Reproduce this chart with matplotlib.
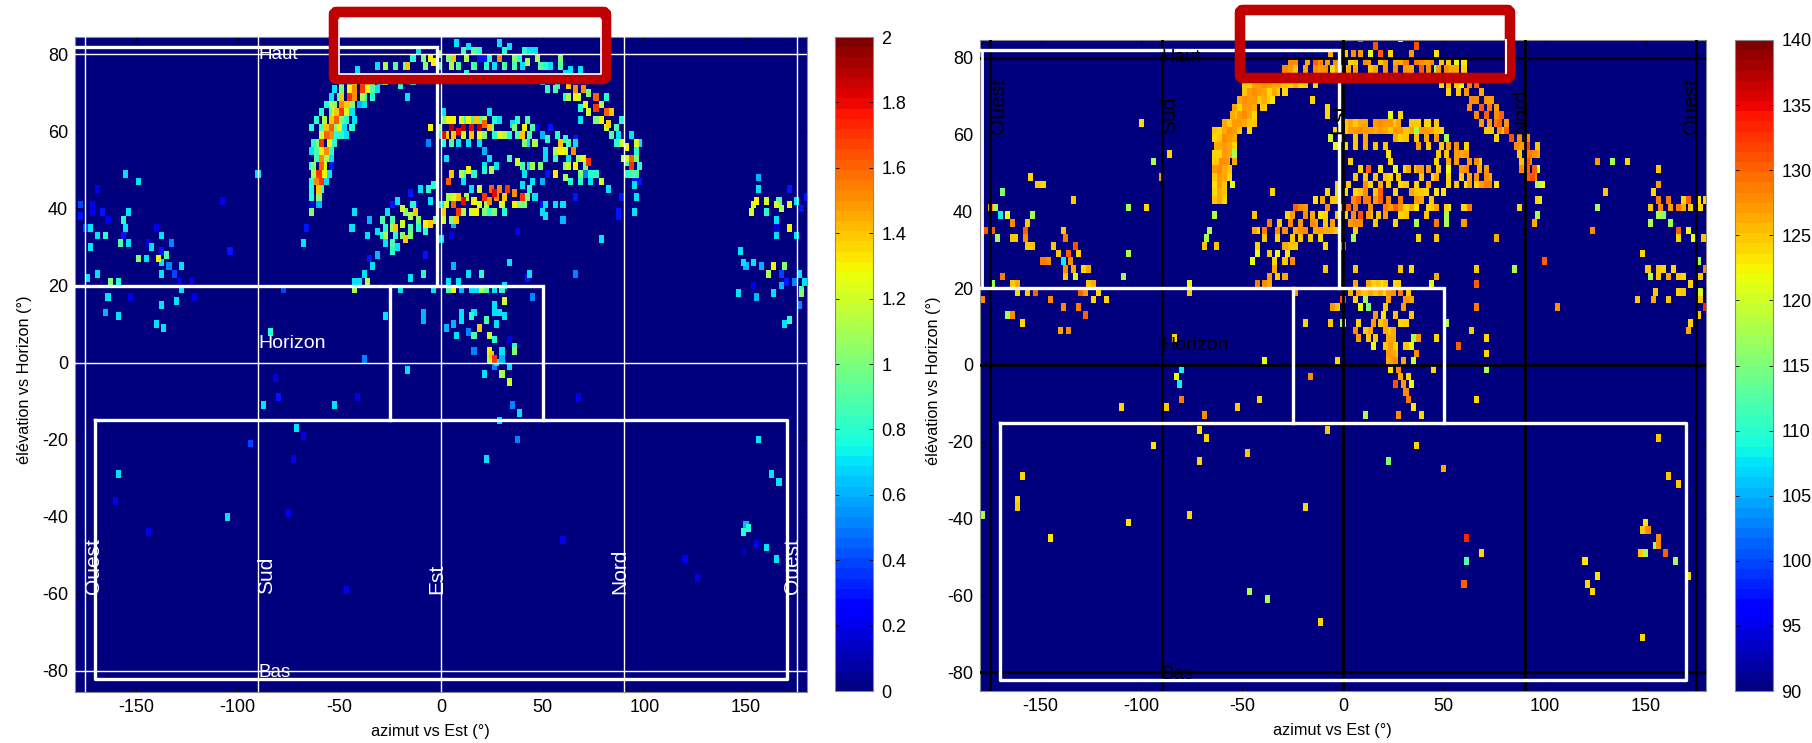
import numpy as np
import matplotlib
matplotlib.use('Agg')
import matplotlib.pyplot as plt
from matplotlib.patches import FancyBboxPatch

plt.rcParams['font.family'] = ['Liberation Sans', 'DejaVu Sans']
plt.rcParams['axes.unicode_minus'] = False

# ---- panneau gauche : (azimut, elevation, valeur) ----
l_arc_ouest = [(-64,42,.8),(-61,42,1.0),(-64,44,.8),(-61,44,1.4),(-59,44,.8),(-62,46,1.5),(-60,46,1.7),(-57,46,.7),
    (-63,48,1.1),(-60.5,48,1.7),(-58,48,1.3),(-63,50,1.0),(-60,50,1.6),(-58,50,1.2),(-55,50,.3),(-62,52,.9),(-59.5,52,1.5),
    (-57,52,1.1),(-62,54,.9),(-59.5,54,1.3),(-57,54,1.5),(-54,54,.8),(-61,56,1.0),(-59,56,1.7),(-56,56,1.3),(-53,56,.8),
    (-60,58,1.2),(-57.5,58,1.6),(-55,58,1.5),(-52,58,.8),(-60,60,.9),(-57,60,1.4),(-54.5,60,1.6),(-52,60,1.0),
    (-58,62,1.1),(-55,62,1.4),(-52,62,1.6),(-49,62,1.0),(-47,62,.8),(-55,64,.9),(-52,64,1.4),(-50,64,1.7),(-47,64,1.2),(-44,64,.7),
    (-53,66,1.0),(-50,66,1.5),(-47,66,1.4),(-44,66,1.0),(-41,66,.6),(-51,68,.9),(-49,68,1.4),(-46,68,1.7),(-43,68,1.5),(-40,68,1.1),(-38,68,.8),
    (-49,70,1.0),(-46,70,1.3),(-43,70,1.5),(-40,70,1.7),(-37,70,1.3),(-34,70,.9),(-46,72,.9),(-43,72,1.2),(-40,72,1.6),(-37,72,1.4),
    (-34,72,1.0),(-31,72,.7),(-28,72,1.1),(-21,71.5,.8),(-14,72,.8),(-16.6,68.3,.7),
    (-65,46,.8),(-65,50,.8),(-56,48,.7),(-55,52,.7),(-64,54,.7),(-63,57,.8),(-64,60,.8),(-62,62,.8),(-60,64,.8),(-57,66,.8),(-55,68,.7),
    (-53,70,.7),(-50,72,.8),(-53,64,1.2),(-55,66,1.1),(-51,60,1.3),(-48,60,.7),(-43,62,.7),(-45,60,.8),(-38,66,.7),(-35,68,.8),(-32,70,.7),(-47,58,.7),(-50,58,.8)]
l_arc_haut = [(-42.4,75.6,.7),(-31.7,76,.7),(-28.4,76,1.1),(-23.5,77,.9),(-17.7,77,1.0),(-17,76,1.4),(-12,80,.7),(-10,78.7,1.0),
    (-6,79,1.3),(-4.6,77.4,1.3),(-1.3,79.5,1.0),(-1.3,76,.9),(2.8,78.7,1.0),(5.3,78,1.4),(4.5,76.5,1.1),(7,83,.7),(10,80,.9),
    (13.5,81.7,.7),(11.8,78,1.1),(15,80,.9),(16,77,.9),(17.6,78,.3),(23.3,79,.8),(21.7,76.5,.8),(28.2,83,.7),(28.2,78,1.5),(25,76,.7),
    (33,81.7,.7),(35.6,79,1.0),(35.6,76.5,.9),(39,76,.7),(42,77.4,1.1),(43,80,.7),(45.5,80,.7),(47,78,1.1),(50.4,77,.8),
    (57.8,78,1.0),(57.8,76.5,.9),(63.5,75.6,.7),(67.6,75.6,.7),(21,78,.3),
    (-8,76,1.0),(-15,78,.8),(30,80,.8),(31,77,.9),(8,76,.9),(12,75,.8),(18,80,.8),(38,79,.8),(40,81,.8),(48,76,.9),(53,76,.7),(60,75,.7)]
l_arc_est = [(48.8,72,.7),(52,71,.8),(57,71.7,.8),(62,71.7,1.4),(65,71,1.5),(69,71,1.5),(65,68.7,1.3),(72,69.5,1.0),(75,68,1.6),(76,65.7,1.7),
    (68.5,65.7,.8),(80,68,.8),(80,64,1.6),(83,64,1.4),(75,62.6,1.0),(82.4,61.8,1.4),(88,62,.8),(83,58.7,.9),(87,59,.7),(88,56,1.2),
    (93,58.7,.7),(90.6,55.7,1.3),(95,56.5,1.2),(97.2,56,.7),(93,53,1.6),(91.5,52,1.2),(97.2,50.5,.8),(93,50,1.7),(93,49,.9),(90,51.3,.9),(92.7,58.8,.7),
    (55,70,.9),(60,69,.8),(62,68,1.1),(67,68,1.2),(70,66,1.3),(72,64,1.2),(78,66,1.1),(78,62,1.3),(80,60,1.2),(85,60,.9),(85,56,.8),(89,53,1.2),(95,52,1.0),
    (95,48,.9),(90,48,.8),(96,54,.8),(68,63,.7)]
l_arc_60 = [(-6.2,60.5,1.3),(-7,57,.5),(-2,60.5,1.0),(1.2,59,1.8),(4.5,60.5,1.9),(7.7,59.6,1.8),(11,60.5,1.9),(14.3,60,1.8),(17.6,60.5,1.9),
    (20,61.3,1.6),(22.5,60.5,1.4),(22.5,64,.7),(1.2,64.8,.7),(4.5,57,.9),(10,62.6,.8),(15,63,.8),(19,62.6,.9),(28,63,.7),(25.8,62,.8),
    (28,58.7,1.3),(30,58.3,1.1),(34,61.3,.7),(37,62,.8),(40.6,61,1.3),(39.8,59,1.4),(44,60.5,.9),(43,58.3,.9),(47,60.5,.2),(45.5,57,1.1),
    (48.8,58.7,.6),(52,57.4,.8),(53,60,.3),(57.8,56,1.4),(57,58,.8),(61,57.4,.8),(58.6,54.4,1.3),(66,57.4,.3),(64.4,54,1.5),(62,52.6,.7),
    (66,56,.7),(69,52,1.3),(71.4,51.3,1.7),(66.8,52,1.1),(72.6,49,.8),(76,49,.8),(77.5,46.6,1.2),(72.6,46.6,.7),(67.6,46,.8),(63.5,46,.8),
    (60,47.4,1.1),(71,48,.5),(81.6,44.4,.7),
    (0,62,1.0),(3,62,1.3),(6,62,1.3),(9,62,1.2),(13,62,1.3),(17,62,1.4),(20,63,1.1),(2,58,1.4),(6,58,1.4),(10,58,1.2),(14,58,1.4),(18,58,1.3),(21,58,1.0),
    (-2,58,.7),(0,56,.8),(8,56,.7),(13,56,.7),(18,56,.7),(24,60,1.0),(26,58,.8),(33,59,.8),(36,60,1.0),(37,58,.9),(42,62,.9),(40,57,1.0),(42,56,.7),(50,55,.7),
    (55,54,1.1),(55,52,.8),(60,50,1.0),(62,50,1.2),(65,50,1.3),(68,49,1.0),(70,50,1.0),(60,55,1.2),(62,56,.9)]
l_arc_50 = [(2,52,.7),(21,55,.6),(22.5,53,.7),(10,49,.9),(9.4,48.3,1.1),(13.5,49.6,1.3),(4.5,48.7,1.4),(3.6,46.6,1.6),(16,48.7,.8),(21,49.2,.8),
    (24,49.6,1.1),(26.6,50.5,.7),(21,50.5,.7),(33,52,.9),(36.5,51.3,1.2),(40.6,49,.7),(43,51,.7),(44.7,50.5,1.1),(48,50.5,1.0),(51,52,.7),
    (55,49,1.3),(52,49,.3),(39.7,50,.9),(44.7,46,.7),(48.8,46,.6),(10,47,.7)]
l_arc_40 = [(-10.3,44,.7),(-7,44.4,.8),(-3.8,45.3,.8),(-5.4,41.4,.7),(-.5,40.5,.7),(2,41,1.2),(1,38.7,1.4),(5,42.6,1.2),(6,40.5,1.6),(10,41.4,1.8),
    (8.5,39,1.7),(14.3,44.4,.7),(15,41.8,1.3),(20,42.6,1.7),(17.6,40.5,1.2),(25.8,43.5,1.8),(27.4,42,1.5),(29,41,1.2),(22.5,41.8,1.5),(32.4,44,1.7),
    (35.6,43.5,1.5),(39.7,42.6,1.7),(38,41,1.0),(30,39,.8),(42,42.3,1.0),(45.5,43,.7),(21.7,40,1.1),(38.9,45.3,.7),(50.4,40,.7),(55,40,.7),(49.6,38,.7),
    (59.5,40,.7),(65.2,43,.3),
    (4,36,1.0),(7,37,1.4),(11,38,1.1),(14,38,1.2),(17,38,1.3),(20,39,1.0),(23,38,.8),(26,39,1.0),(28,44,1.5),(31,42,1.4),(35,41,1.3),(24,44,1.6),(18,44,1.2),
    (12,43,1.1),(8,43,1.4),(3,43,1.1),(40,40,1.0),(43,44,.8),(0,36,1.2),(-3,36,1.0)]
l_diag = [(-21.8,41.7,.7),(-19.4,39.6,1.2),(-16,37.4,1.1),(-12.8,38.3,1.4),(-12,36.5,1.0),(-22.6,34.8,1.4),(-20,35.2,1.2),(-25,34.4,1.1),(-30,36,.9),
    (-32.5,33.5,.7),(-27.6,32.6,1.1),(-28.7,30.5,.7),(-25,31,.9),(-21.5,29.3,.7),(-18.2,31.3,1.4),(-22.6,32.2,.8),(-15.3,34.8,.9),(-12,34,.8),
    (-8.7,33.5,.8),(-7.9,35.8,1.3),(-6.2,35.8,1.4),(-16,43.5,.3),(-25,40,.3),(-12.8,40.9,.3),(-43.5,38.9,.7),(-36,36.8,.6),(-44,34.8,.7),(-37,32.2,.7),
    (-27,38.3,.7),(-31.7,27.2,.6),(-35,24.4,.7),(-35.3,26,.3),(-38,22.2,.7),(-36.6,21,1.1),(-43,20.5,.7),(-43.2,18.3,1.1),(-40.7,21,.7),(-16,21.8,.7),
    (-9.5,22.8,.8),(-8.7,27.4,.2),(-20.5,18.3,.7),(-5,18.8,.7),(-28,11.4,.7),(-9,12.7,.6),(-9.5,10.3,.6),(-38.6,.3,.5),(-17,-2.8,.7),
    (-25,36,.9),(-18,38,1.0),(-16,33,1.0),(-20,32,1.0),(-28,35,.8),(-30,33,.8),(-24,29,.8),(-14,40,.8)]
l_bas_centre = [(2.8,18,.9),(6,18,1.3),(3.6,20.5,.7),(9.4,18.8,.6),(8.5,21,.7),(13,22,.7),(14.3,18,.7),(19.2,22.2,.8),(16.7,18,.7),(19.2,18,1.1),(21.7,18.8,.9),
    (25,18.8,.7),(29,18.3,.8),(30.7,15.7,1.2),(25,15,.7),(25.8,12.7,.7),(28.6,13,.7),(30,11.8,.7),(16,13,.7),(9.4,12.7,.7),(9.4,10,.7),(14,11.3,.8),(21.7,10,.9),
    (26.6,9.6,.7),(2,8.3,.6),(5.3,9.2,.6),(12.6,7.7,.5),(17.6,8.3,1.4),(16,6.2,.9),(6.5,6.2,.7),(23.3,6.2,1.2),(25.3,5.3,.8),(22.5,3,1.3),(29.5,3,.7),(36,3.5,.8),
    (35.6,2.2,1.0),(15,2.2,.5),(24,1.8,1.4),(25.8,1,1.7),(22.5,1,1.1),(29.4,0,.6),(33.5,5.5,.2),(33.5,-1.2,.7),(25,-1.2,.5),(27.4,-.8,.7),(21,-3,.7),(29,-3,1.1),
    (33,-5,1.2),(31,19.7,.7)]
l_ouest = [(-156,48,.7),(-150,46,.7),(-170,44,.2),(-108,41.4,.2),(-91,48.8,.7),(-172,41,.2),(-178,40,.4),(-178,37.5,.3),(-171.6,38.4,.2),(-167,39,.3),(-165,37,.2),
    (-155,38,.7),(-157,36.6,.8),(-156,35,.7),(-176,34,.4),(-173,34,.7),(-169,32,.7),(-165.4,33,.8),(-158,30.7,.9),(-155,30.4,.7),(-156.6,32,.3),(-140.5,34,.2),
    (-138,32,.7),(-132.7,30.4,.5),(-144,30.4,.2),(-143,29.4,.7),(-137.7,29,.3),(-150,27,1.0),(-146,27,.7),(-139,27,1.3),(-136,27.5,.9),(-138,25.3,.7),(-104,28.4,.3),
    (-173,29.4,.7),(-134.7,25,.5),(-131.6,23,.4),(-127.6,24.4,.7),(-138,22,.7),(-169,22,.7),(-175,21.4,.7),(-163,20.6,1.0),(-160,20,.8),(-129,21,.2),(-123,21,.2),
    (-165,17,.7),(-128,18.4,.7),(-153.5,16.8,.2),(-122,17,.2),(-131,15.8,.7),(-138,15,.7),(-166,12.8,.6),(-159,11.3,.7),(-141,9.3,.7),(-136.4,8.9,.7),(-84,7.3,.8),
    (-78,19,.4),(-64,38,1.0),(-64,40,.2),(-67,34.5,.3),(-68.6,30.4,.7),(-43.7,38.8,.7),(-44,35,.7),(-60.5,40,.6),(-55.5,48.8,.3)]
l_epars = [(-.2,31.8,.7),(4,32,.2),(6,35.2,.6),(36.5,33.3,.2),(5.6,24.2,.6),(32.7,25.3,.7),(65,22.7,.5),(43,22.8,.7),(41.9,21.3,.3),(44.7,17,.5),(59,40,.6),(59,36,.6),
    (77.7,31.8,.7),(48.8,40.2,.3),(50,37.8,.7),(86.5,37.8,.3),(94.7,45.3,.7),(96,42.3,.7),(94.5,39,.7),(86.4,38,.3),(88.4,42.3,.3),(97.2,47,.3),(94,47.5,.3),
    (-8.5,27.3,.3),(-82.4,-4.2,.2)]
l_est = [(155,47.5,.6),(155,44,.7),(170,44.9,.3),(151.8,38.4,1.2),(152.5,40,1.2),(154.3,41.4,1.3),(159.3,41.8,1.2),(159.3,38.8,.8),(163.8,40.5,1.2),(165.6,41.8,.9),
    (167.3,39.7,1.1),(171,40.5,1.3),(173.9,41.8,.7),(176.9,39.7,.3),(179.4,42.3,.3),(164.3,37,.7),(164.3,34.5,.2),(170,34.3,1.3),(164.6,32.9,.7),(173.9,32.3,.7),
    (146.7,28.8,.7),(148,25.8,.7),(149.7,24.3,.6),(153,25.3,.7),(156.8,24.5,.6),(160.6,23,1.1),(163.6,24.3,1.3),(167.6,24,1.0),(161,22.6,.5),(175.6,22.3,.7),
    (173,20.7,.5),(167.3,22.3,.4),(178.6,20.6,.7),(176.9,18.8,.9),(176.9,17.5,1.0),(169.8,20,.3),(166.8,19.7,.6),(145,17.4,.7),(154.3,17,.6),(163,17.4,.7),
    (153,19.5,.2),(176,14.5,.5),(170.6,10.6,.8),(168.6,9.5,.7)]
l_sud = [(-87.7,-11.8,.7),(-80.7,-10,.3),(-53,-11.8,.7),(-42.2,-9.3,.2),(34,-11,.5),(38,-13.2,.7),(28,-15,.7),(66.6,-9.3,.2),(-71.9,-18,.7),(-67.6,-20,.2),
    (-94.5,-21.5,.4),(-72.6,-26,.2),(-160,-29.6,.7),(-161,-36.7,.2),(-106,-40.8,.7),(-76,-39.7,.2),(-145,-44.8,.2),(-46.5,-59,.2),(59,-46.3,.2),(119,-51.4,.2),
    (125,-56.4,.2),(22,-26,.7),(36.4,-20.5,.5),(155,-20.5,.7),(161.3,-29.6,.7),(165,-31.7,.7),(149,-42.5,.6),(148,-44.3,.8),(150.8,-43.9,.8),(154.5,-48,.2),
    (159.5,-48.3,.7),(163.8,-51.4,.7),(148,-49.5,.1)]

# ---- panneau droit ----
r_arc_ouest = [(-64,42,125),(-61.5,42,126),(-59,42,124),(-64,44,124),(-61.5,44,126),(-59,44,125),(-64,46,123),(-61.5,46,127),(-59,46,125),(-56,46,121),
    (-64,48,125),(-61.5,48,127),(-59,48,126),(-56.5,48,124),(-64,50,127),(-61.5,50,128),(-59,50,126),(-56.5,50,125),(-63,52,125),(-60.5,52,128),(-58,52,127),
    (-62,54,124),(-59.5,54,127),(-57,54,126),(-54,54,118),(-62,56,126),(-59.5,56,127),(-57,56,126),(-54.5,56,124),(-62,58,125),(-59.5,58,128),(-57,58,127),(-54.5,58,126),
    (-62,60,124),(-59.5,60,126),(-57,60,128),(-54.5,60,127),(-52,60,125),(-57,62,125),(-54.5,62,127),(-52,62,127),(-49.5,62,126),(-54.5,64,125),(-52,64,127),
    (-49.5,64,128),(-47,64,126),(-44,64,124),(-52,66,124),(-49.5,66,127),(-47,66,127),(-44.5,66,126),(-54,67,117),(-52,68,126),(-49.5,68,128),(-47,68,127),
    (-44.5,68,127),(-42,68,125),(-50,70,125),(-47.5,70,127),(-45,70,128),(-42.5,70,127),(-40,70,126),(-37,70,124),(-47.5,72,124),(-45,72,127),(-42.5,72,127),
    (-40,72,128),(-37.5,72,127),(-35,72,126),(-32.5,72,126),(-30,72,125),(-27.5,72,125),(-22,72,124),(-15,72,124),(-16,68,124),(-8,66,124),
    (-64,60,125),(-64,58,124),(-63,56,126),(-65,54,124),(-65,52,124),(-55,52,126),(-59,62,126),(-47,62,125),(-56,64,126),(-54,66,126),(-41,66,125),(-39,66,124),
    (-38,68,125),(-40,68,126),(-36,68,123),(-35,70,126),(-33,70,125),(-30,70,124),(-50,72,125),(-25,72,126),(-20,72,125),(-47,60,124),(-44,62,125)]
r_arc_haut = [(-30,76,128),(-27,76,127),(-24,76,125),(-24,78,128),(-19,76,124),(-18,78,126),(-15,78,130),(-12,79,128),(-10,76,128),(-7,80,126),(-6,77,124),(-3,78,128),
    (-2,76,126),(0,80,125),(3,78,124),(6,76,126),(8,84,130),(8,81,127),(10,78,128),(13,80,122),(13,76,125),(15,82,131),(18,78,125),(18,80,130),(20,76,124),(23,80,124),
    (25,77,128),(28,78,126),(28,84,122),(30,76,127),(33,80,127),(35,78,129),(35,82,131),(38,76,130),(40,79,127),(43,78,128),(45,76,118),(46,81,123),(48,79,125),
    (50,77,128),(53,76,126),(55,79,122),(59,79,123),(59,76,124),(21,76,127),
    (-20,76,126),(-15,76,128),(-12,76,127),(-8,78,127),(-5,79,128),(-3,76,127),(2,77,126),(4,80,128),(6,79,125),(12,78,127),(16,77,126),(21,79,127),(26,79,126),
    (31,78,129),(33,76,126),(38,78,128),(42,76,128),(47,77,127),(52,78,125),(56,77,126),(-35,75,128),(-32,75,127),(-27,78,128)]
r_arc_est = [(48,72,124),(52,70,124),(55,72,125),(58,72,122),(60,70,127),(62,72,129),(65,72,130),(63,69,128),(65,68,128),(68,70,126),(68,66,130),(70,68,127),
    (72,66,129),(75,66,127),(72,63,127),(75,63,129),(77,63,130),(80,63,127),(73,61,125),(77,61,128),(80,61,130),(75,59,124),(83,58,131),(87,58,128),(90,56,132),(87,55,125),
    (92,54,129),(90,53,131),(88,53,125),(92,52,128),(94,50,130),(91,51,130),(94,54,128),(93,48,131),(96,50,120),(95,46,118),(98,47,122),(95,43,121),(97,42,120),(95,39,115),
    (52,72,126),(57,70,125),(62,66,128),(66,64,128),(68,62,127),(70,60,125),(78,60,125),(75,64,128),(78,65,130),(70,64,130),(73,68,127),(85,56,128),(88,56,127),(90,58,128),
    (88,50,128),(92,48,130),(94,48,128),(90,50,129),(96,54,126),(96,56,125)]
r_arc_60 = [(-7,58,120),(-5,60,124),(-5,56,122),(-2,58,126),(0,60,125),(2.5,60,127),(2.5,62,126),(5,60,127),(5,58,125),(7.5,60,128),(7.5,62,126),(10,60,127),(10,58,126),
    (12.5,60,127),(15,60,126),(15,62,127),(17.5,60,127),(17.5,62,128),(20,60,126),(22.5,62,127),(22.5,60,125),(22.5,64,122),(25,60,127),(27.5,60,127),(27.5,58,124),
    (30,60,125),(32.5,62,125),(32.5,60,126),(35,60,118),(37.5,60,127),(40,62,124),(40,60,127),(40,58,126),(42.5,60,126),(45,58,127),(47.5,60,124),(47.5,56,124),
    (50,58,118),(52,56,127),(55,56,128),(55,54,127),(57.5,54,126),(60,54,127),(62,52,127),(60,56,124),(65,52,128),(67,50,126),(70,50,127),(70,48,128),(72,48,126),
    (72,46,129),(67,52,124),(75,46,123),(22,54,123),(23,52,124),(62,47,127),(65,46,124),(60,46,123),
    (0,62,125),(5,63,125),(10,63,126),(15,63,125),(20,63,127),(25,63,125),(28,65,124),(27,62,126),(35,62,125),(37,63,124),(42,63,124),(45,62,125),(0,57,124),(5,56,125),
    (10,56,126),(15,57,125),(20,57,125),(25,58,126),(30,58,125),(35,58,125),(37,56,127),(42,56,125),(47,54,125),(50,54,125),(52,53,126),(55,52,127),(58,50,127),(60,50,128),
    (62,49,126),(65,48,128),(68,46,127),(70,46,129),(48,57,125),(45,61,125)]
r_arc_50 = [(3,52,124),(2,47,125),(0,44,124),(5,48,125),(5,45,124),(10,48,125),(10,46,128),(12,50,130),(13,47,124),(15,49,125),(18,50,123),(20,48,125),(23,49,124),(25,51,122),
    (30,51,124),(32,50,126),(35,51,125),(38,48,125),(38,51,127),(42,50,127),(44,48,124),(45,52,124),(47,50,125),(52,48,124),(52,51,122),(58,49,124),(60,47,123),
    (8,44,125),(15,45,124),(22,46,125),(8,50,124),(18,47,126),(27,49,125),(30,47,125),(35,47,124),(37,50,127),(42,47,126),(45,49,126),(28,47,124),(52,46,124),(56,46,125)]
r_arc_40 = [(-10,38,124),(-8,44,124),(-5,42,125),(-3,46,124),(-3,38,125),(0,38,124),(-2,41,127),(2,41,130),(4,39,128),(4,43,128),(6,41,129),(8,39,131),(8,37,128),(10,42,129),(13,38,125),
    (13,41,128),(15,42,127),(17,39,125),(18,44,130),(20,41,129),(22,43,128),(23,40,127),(25,44,124),(25,41,130),(28,42,129),(28,38,124),(31,41,124),(33,44,126),
    (35,40,123),(35,42,127),(38,42,126),(40,44,124),(42,41,124),(44,41,125),(46,40,124),(45,44,123),(50,40,124),(50,38,118),(52,40,122),(49,44,123),(61,41,123),
    (3,37,127),(6,37,128),(12,39,127),(16,37,125),(20,38,127),(25,37,124),(30,39,125),(33,40,126),(38,44,125),(40,39,125),(10,44,128),(15,44,125),(22,46,125),(30,46,124),
    (35,44,125),(43,43,125),(18,42,130),(12,42,129),(7,42,130),(28,40,128)]
r_diag = [(-43,21,129),(-40,20,128),(-37,22,127),(-37,20,126),(-35,24,126),(-34,26,124),(-33,22,125),(-30,22,126),(-33,28,122),(-29,26,125),(-26,27,128),(-27,30,125),
    (-26,33,125),(-29,34,128),(-27,36,128),(-24,34,126),(-22,32,125),(-24,30,125),(-22,36,127),(-19,35,128),(-19,38,127),(-16,37,128),(-17,33,125),(-14,36,126),(-12,35,127),(-9,35,126),(-7,35,126),
    (-5,35,125),(-25,40,130),(-22,40,128),(-19,41,127),(-16,39,126),(-28,39,124),(-32,37,125),(-14,43,123),(-12,39,123),(-8,40,128),(-6,43,125),(-3,44,124),(-11,42,126),
    (-40,33,125),(-37,29,125),(-44,34,126),(-33,35,128),(-43,28,122),(-46,27,122),(-63,30,125),(-68,33,118),(-28,28,123),
    (-20,38,128),(-22,34,128),(-26,38,127),(-15,35,126),(-10,37,125),(-12,33,124),(-6,37,127),(-30,30,126),(-33,32,124)]
r_bas_centre = [(3,18,126),(5,20,126),(5,17,124),(7,18,127),(10,19,125),(10,16,118),(13,18,126),(13,21,124),(15,18,125),(15,20,124),(18,19,126),(18,21,123),(20,18,124),(22,16,126),
    (24,18,128),(25,21,124),(28,19,129),(30,17,127),(8,15,122),(12,14,115),(10,9,125),(13,9,126),(16,12,127),(19,13,123),(18,10,125),(21,14,125),(21,11,126),(22,8,125),
    (26,13,125),(29,14,127),(28,10,124),(24,9,126),(5,9,128),(7,6,127),(15,6,125),(14,4,122),(24,6,126),(22,3,127),(25,4,124),(24,1,127),(22,1,126),(26,1,128),(34,7,118),(33,4,122),
    (31,5,125),(36,2,128),(37,6,127),(34,1,120),(36,3,125),(29,0,126),(45,6,124),(44,-2,124),(27,-1,128),(23,-2,123),(28,-3,126),(32,-3,124),(33,-5,122),(26,-5,131),(29,-6,127),(30,-8,128),(32,-9,129),
    (-6,15,127),(-7,10,125),(-1,11,118),(-19,11,124),(-3,1,124),(-39,0,122),(-17,-3,128),
    (8,19,125),(12,20,126),(17,21,125),(20,20,125),(22,19,127),(27,20,124),(32,18,125),(33,16,126),(33,13,125),(31,11,124),(21,8,126),(23,5,127),(22,6,126),(24,3,126),(26,3,125),
    (7,11,124),(12,7,125),(14,11,127),(16,7,125),(20,5,125)]
r_ouest = [(-156,48,124),(-152,47,125),(-150,46,124),(-135,43,125),(-170,44,115),(-173,41,117),(-176,41,127),(-171,38,108),(-167,39,122),(-165,37,128),(-157,37,125),(-155,38,118),(-158,35,130),
    (-178,34,131),(-175,34,130),(-172,32,117),(-165,33,125),(-163,32,125),(-157,31,125),(-158,33,128),(-155,30,125),(-140,34,125),(-138,32,129),(-144,31,125),(-142,29,125),(-139,27,108),
    (-133,30,131),(-132,28,124),(-150,27,129),(-147,27,128),(-138,25,128),(-136,26,128),(-137,28,130),(-134,24,126),(-130,24,124),(-127,24,126),(-133,22,120),(-127,21,125),(-124,21,126),
    (-138,22,125),(-170,22,129),(-165,21,125),(-162,21,126),(-175,21,117),(-128,19,127),(-131,18,130),(-157,18,125),(-162,18,124),(-153,18,130),(-146,17,128),(-139,15,128),(-132,15,129),(-128,13,130),
    (-124,16,124),(-118,17,124),(-122,18,124),(-167,13,118),(-164,13,128),(-160,11,124),(-141,9,126),(-137,9,128),(-84,7,124),(-83,-4,122),(-82,-6,108),(-180,17,128),
    (-124,21,125),(-107,41,117),(-98,41,124),(-95,52,118),(-101,63,124),(-87,54,124),(-91,48,127),(-107,28,118),(-109,22,117),(-77,20,122),(-77,18,125),(-81,-1,108),(-65,39,118),(-69,30,125),(-67,34,118),(-58,52,117),
    (-44,38,125),(-43,35,124),(-36,45,124),(-37,36,129),(-39,34,129),(-43,31,124),(-16,68,124),(-8,64,124)]
r_epars = [(-1,31,131),(-9,31,124),(4,33,118),(6,35,124),(36,36,118),(46,36,129),(45,33,125),(37,33,124),(5,24,125),(33,25,124),(-10,24,125),(-3,15,125),(-24,18,127),(-1,17,131),(66,24,125),
    (66,21,130),(43,21,122),(46,22,126),(28,24,125),(46,40,126),(59,41,124),(59,36,127),(62,41,129),(50,37,118),(76,32,126),(84,25,118),(99,27,130),(87,41,124),(96,42,124),(94,36,126),(95,38,118),(105,15,128),
    (66,15,129),(50,10,118),(63,8,125),(71,7,124),(57,4,130),(70,3,124),(71,-1,118),(-8,-17,125)]
r_est = [(129,44,125),(133,53,118),(126,52,127),(125,40,118),(141,52,124),(155,51,125),(155,47,127),(153,45,124),(152,40,125),(152,37,118),(155,42,129),(157,40,128),(158,38,115),(160,42,129),(162,37,117),
    (162,40,127),(165,40,129),(168,42,124),(168,40,126),(170,42,130),(172,40,125),(175,42,123),(177,41,124),(179,42,124),(155,38,118),(165,34,130),(165,32,124),(171,34,122),(173,32,122),(178,33,125),
    (123,34,128),(148,29,124),(150,25,125),(152,23,118),(155,25,125),(155,22,125),(158,24,124),(160,22,126),(163,24,124),(165,23,125),(168,23,124),(172,21,124),(177,22,125),(168,18,125),(177,19,120),(177,17,125),
    (146,17,125),(153,17,126),(154,19,125),(161,17,125),(165,18,124),(179,15,133),(176,13,125),(172,10,124),(170,9,126),(176,26,118),(179,25,128)]
r_sud = [(-111,-11,124),(-88,-12,125),(-81,-10,129),(-69,-13,128),(-53,-11,125),(-42,-9,124),(10,-13,118),(27,-13,128),(34,-11,123),(38,-13,124),(66,-9,124),(-72,-18,123),(-68,-20,124),(-95,-21,123),
    (-48,-23,125),(36,-21,124),(35,-22,123),(155,-20,125),(-72,-26,124),(22,-26,115),(49,-27,126),(-160,-29,124),(161,-30,125),(165,-32,125),(-162,-36,124),(-162,-38,125),(-20,-37,124),(-107,-41,123),(-77,-40,124),
    (-146,-45,123),(-180,-40,118),(60,-46,133),(68,-49,124),(148,-44,125),(149,-42,123),(151,-44,128),(155,-45,128),(156,-48,128),(159,-49,130),(154,-48,117),(149,-49,118),(147,-50,125),(164,-52,117),
    (119,-51,123),(60,-52,112),(125,-56,123),(120,-57,124),(123,-59,124),(-47,-59,118),(59,-58,130),(-38,-62,117),(-12,-68,124),(148,-71,124),(170,-55,124)]

l_groupes = [l_arc_ouest, l_arc_haut, l_arc_est, l_arc_60, l_arc_50, l_arc_40, l_diag, l_bas_centre, l_ouest, l_epars, l_est, l_sud]
r_groupes = [r_arc_ouest, r_arc_haut, r_arc_est, r_arc_60, r_arc_50, r_arc_40, r_diag, r_bas_centre, r_ouest, r_epars, r_est, r_sud]

x_ticks = [-150, -100, -50, 0, 50, 100, 150]
y_ticks = [-80, -60, -40, -20, 0, 20, 40, 60, 80]
lim_v = [-175, -90, 0, 90, 175]
lim_h = [-80, 0, 80]
noms = [(-171, 'Ouest'), (-86, 'Sud'), (-2, 'Est'), (88, 'Nord'), (173, 'Ouest')]
cb_gauche = [0, 0.2, 0.4, 0.6, 0.8, 1, 1.2, 1.4, 1.6, 1.8, 2]
cb_droite = [90, 95, 100, 105, 110, 115, 120, 125, 130, 135, 140]

W, H = 1812, 743
jet64 = plt.get_cmap('jet', 64)


def add_ax(x0, y0, x1, y1):
    # coordonnees en pixels depuis le haut gauche
    return fig.add_axes([x0 / W, 1 - y1 / H, (x1 - x0) / W, (y1 - y0) / H])


def grille(groupes, fond):
    # pas fin : 1.25 deg x 1 deg, chaque detection couvre 2 x 2 mailles
    z = np.full((172, 288), float(fond))
    for groupe in groupes:
        for az, el, v in groupe:
            i = int(round(el + 85.5))
            j = int(round((az + 180) / 1.25 - .5))
            i0, i1 = max(i, 0), min(i + 2, 172)
            j0, j1 = max(j, 0), min(j + 2, 288)
            z[i0:i1, j0:j1] = np.maximum(z[i0:i1, j0:j1], v)
    return z


def panneau(box, cbox, groupes, vmin, vmax, trait, el_nom, lw_trait, cb_ticks, ylim, pad_y):
    ax = add_ax(*box)
    im = ax.imshow(grille(groupes, vmin), extent=[-180, 180, -86, 86], origin='lower', aspect='auto',
                   cmap=jet64, vmin=vmin, vmax=vmax, interpolation='nearest')
    for x in lim_v:
        ax.axvline(x, color=trait, lw=lw_trait, zorder=3)
    for y in lim_h:
        ax.axhline(y, color=trait, lw=lw_trait, zorder=3)
    # zones en blanc epais
    ax.plot([-180, -2, -2], [82, 82, 20], color='white', lw=2.4, zorder=4, solid_joinstyle='miter')
    ax.plot([-180, 50, 50], [20, 20, -15], color='white', lw=2.4, zorder=4, solid_joinstyle='miter')
    ax.plot([-25, -25], [20, -15], color='white', lw=2.4, zorder=4)
    ax.plot([-170, 170, 170, -170, -170], [-15, -15, -82, -82, -15], color='white', lw=2.4, zorder=4)
    for x, nom in noms:
        ax.text(x, el_nom, nom, rotation=90, ha='center', va='bottom', color=trait, fontsize=15, zorder=5)
    ax.text(-90, 80, 'Haut', color=trait, fontsize=13.5, va='center', zorder=5)
    ax.text(-90, 5, 'Horizon', color=trait, fontsize=14, va='center', zorder=5)
    ax.text(-90, -80.5, 'Bas', color=trait, fontsize=13.5, va='center', zorder=5)
    ax.set_xlim(-180, 180)
    ax.set_ylim(*ylim)
    ax.set_xticks(x_ticks)
    ax.set_yticks(y_ticks)
    ax.tick_params(direction='in', length=3, width=.6, labelsize=13, top=True, right=True, pad=5)
    ax.set_xlabel('azimut vs Est (°)', fontsize=11.7, labelpad=6, x=.486)
    ax.set_ylabel('élévation vs Horizon (°)', fontsize=11.7, labelpad=pad_y, y=.477)
    for s in ax.spines.values():
        s.set_color('#888888')
    cax = add_ax(*cbox)
    cb = fig.colorbar(im, cax=cax, ticks=cb_ticks)
    cb.ax.set_yticklabels([str(t) for t in cb_ticks])
    cb.ax.tick_params(direction='in', length=3, width=.6, labelsize=13, left=True, right=True, pad=6)
    cb.outline.set_edgecolor('#888888')
    return ax


fig = plt.figure(figsize=(W / 100, H / 100), dpi=100, facecolor='white')
ax1 = panneau((75, 37, 807, 692), (835, 37, 873, 691), l_groupes, 0, 2, 'white', -60, 1.0, cb_gauche, (-85.5, 84.5), 7)
ax2 = panneau((980, 40, 1706, 691), (1735, 40, 1773, 691), r_groupes, 90, 140, 'black', 60, 2.0, cb_droite, (-84.9, 84.6), 4)
ax2.plot([-179, -179], [82, 20], color='white', lw=2, zorder=4)

# cadres rouges par dessus
ov = fig.add_axes([0, 0, 1, 1], zorder=10)
ov.set_xlim(0, W)
ov.set_ylim(H, 0)
ov.axis('off')
ov.plot([339, 339, 601, 601], [20, 74, 74, 20], color='white', lw=1.2)
ov.plot([1506, 1506], [40, 73], color='white', lw=1.5)
for x0, x1, y0, y1 in [(334, 606, 12, 79), (1240, 1510, 10, 78)]:
    ov.add_patch(FancyBboxPatch((x0, y0), x1 - x0, y1 - y0, boxstyle='round,pad=0,rounding_size=3',
                                fill=False, ec='#C00000', lw=7.6, mutation_aspect=1))

fig.savefig('out.png', dpi=100)
